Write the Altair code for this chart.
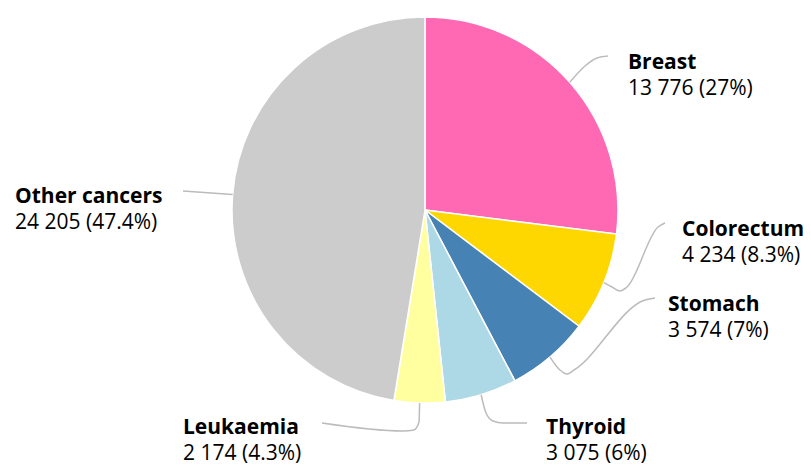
import math
import altair as alt
import pandas as pd

# ---- data ----
categories = ["Breast", "Colorectum", "Stomach", "Thyroid", "Leukaemia", "Other cancers"]
values = [13776, 4234, 3574, 3075, 2174, 24205]
colors = ["#FF69B4", "#FFD700", "#4682B4", "#ADD8E6", "#FFFFA0", "#CCCCCC"]

# ---- layout (page pixels) ----
W, H = 795, 458
M = 8
CX, CY, R = 425, 210, 193
label_pos = {  # left x, first-line baseline y
    "Breast": (628, 69),
    "Colorectum": (682, 236),
    "Stomach": (668, 311),
    "Thyroid": (546, 434),
    "Leukaemia": (183, 434),
    "Other cancers": (15, 203),
}
connector_path = {  # points after the slice-edge point
    "Breast": [(585, 66), (597, 58), (608, 56)],
    "Colorectum": [(612, 287), (620, 291), (627, 287), (658, 227), (665, 223)],
    "Stomach": [(560, 370), (567, 374), (574, 370), (645, 300), (655, 298)],
    "Thyroid": [(486, 413), (493, 421), (503, 423), (527, 423)],
    "Leukaemia": [(419, 422), (414, 430), (403, 431), (322, 423)],
    "Other cancers": [(183, 191)],
}
LINE_GAP = 26

total = sum(values)


def pct(v):
    p = round(v / total * 100, 1)
    return f"{p:g}%"


df = pd.DataFrame({
    "cat": categories,
    "value": values,
    "idx": list(range(len(categories))),
})

# connectors from slice edges
rows = []
cum = 0
for c, v in zip(categories, values):
    mid = (cum + v / 2) / total * 2 * math.pi
    cum += v
    ex = CX + R * math.sin(mid)
    ey = CY - R * math.cos(mid)
    pts = [(ex, ey)] + connector_path[c]
    for i, (px, py) in enumerate(pts):
        rows.append({"cat": c, "i": i, "x": px - M, "y": py - M})
lines_df = pd.DataFrame(rows)

lab_rows = []
for c, v in zip(categories, values):
    lx, ly = label_pos[c]
    lab_rows.append({
        "cat": c,
        "x": lx - M,
        "y": ly - M,
        "y2": ly - M + LINE_GAP,
        "val": f"{v:,}".replace(",", " ") + f" ({pct(v)})",
    })
lab_df = pd.DataFrame(lab_rows)

xs = alt.Scale(domain=[0, W], range=[0, W])
ys = alt.Scale(domain=[0, H], range=[0, H])

pie = alt.Chart(df).mark_arc(radius=R, stroke="white", strokeWidth=1.5).encode(
    theta=alt.Theta("value:Q", stack=True),
    order=alt.Order("idx:Q"),
    color=alt.Color("cat:N", scale=alt.Scale(domain=categories, range=colors), legend=None),
    x=alt.value(CX - M),
    y=alt.value(CY - M),
)

conn = alt.Chart(lines_df).mark_line(color="#BBBBBB", strokeWidth=1.5, interpolate="monotone").encode(
    x=alt.X("x:Q", scale=xs, axis=None),
    y=alt.Y("y:Q", scale=ys, axis=None),
    detail="cat:N",
    order="i:Q",
)

name_txt = alt.Chart(lab_df).mark_text(
    align="left", baseline="alphabetic", font="Open Sans", fontSize=21, fontWeight="bold", color="#000000"
).encode(
    x=alt.X("x:Q", scale=xs, axis=None),
    y=alt.Y("y:Q", scale=ys, axis=None),
    text="cat:N",
)

val_txt = alt.Chart(lab_df).mark_text(
    align="left", baseline="alphabetic", font="Open Sans", fontSize=21, color="#000000"
).encode(
    x=alt.X("x:Q", scale=xs, axis=None),
    y=alt.Y("y2:Q", scale=ys, axis=None),
    text="val:N",
)

chart = alt.layer(pie, conn, name_txt, val_txt).properties(
    width=W, height=H, padding=0, autosize=alt.AutoSizeParams(type="none")
).configure_view(stroke=None)

chart.save("out.html", embed_options={"renderer": "svg", "actions": False})
